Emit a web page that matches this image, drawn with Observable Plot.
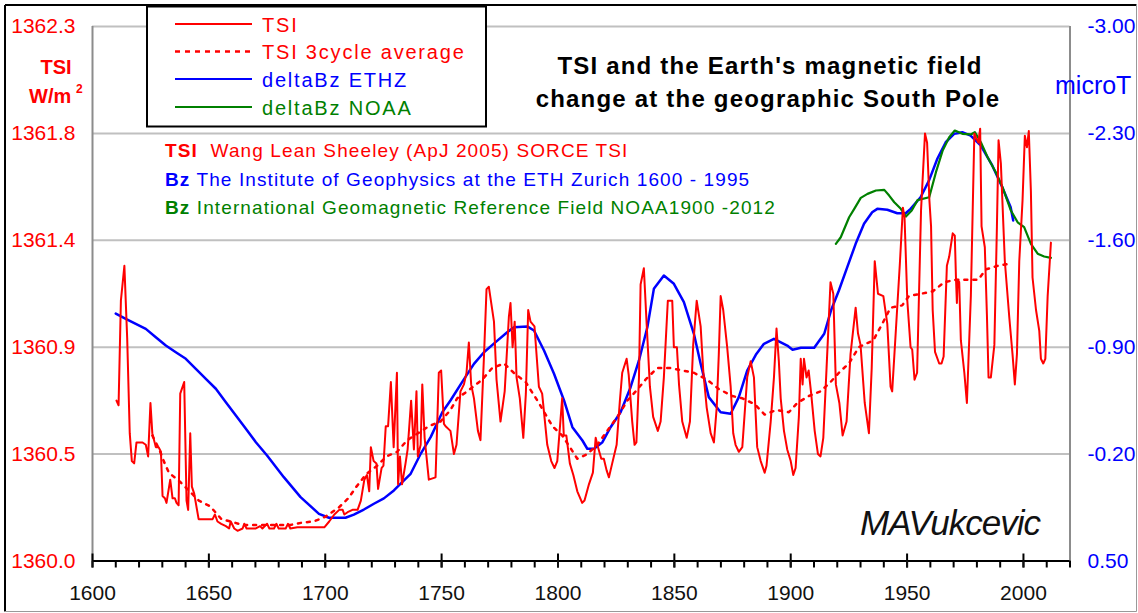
<!DOCTYPE html>
<html><head><meta charset="utf-8">
<script src="https://cdn.jsdelivr.net/npm/d3@7"></script>
<script src="https://cdn.jsdelivr.net/npm/@observablehq/plot@0.6"></script>
<style>
html,body{margin:0;padding:0;background:#fff;}
#wrap{position:relative;width:1138px;height:613px;overflow:hidden;font-family:"Liberation Sans",Arial,sans-serif;background:#fff;}
#chart{position:absolute;left:0;top:0;}
#overlay{position:absolute;left:0;top:0;}
</style></head><body>
<div id="wrap"><div id="chart"></div><svg id="overlay" width="1138" height="613"></svg></div>
<script>
// ---------- data ----------
const tsiYears = [1610.3,1611.2,1612.2,1613.7,1614.9,1616.0,1616.9,1617.9,1618.9,1621.5,1622.9,1623.9,1624.9,1625.7,1627.2,1628.4,1629.4,1630.1,1631.1,1631.8,1633.4,1634.4,1635.4,1636.1,1637.0,1637.7,1639.4,1640.4,1641.1,1642.0,1642.7,1643.7,1645.6,1651.6,1652.6,1653.7,1655.3,1657.3,1658.7,1659.4,1660.9,1662.3,1664.5,1665.2,1666.2,1670.2,1672,1673,1675,1676,1678,1679,1680,1683,1684,1685,1688,1699.6,1701.7,1703.9,1706.0,1707.5,1708.2,1709.6,1711.7,1713.9,1715.3,1716.8,1717.9,1718.9,1719.6,1720.8,1722.0,1722.7,1724.2,1725.0,1726.0,1727.0,1728.2,1729.4,1730.8,1731.3,1732.1,1733.0,1734.5,1735.4,1736.9,1738.1,1739.2,1739.8,1741.0,1741.7,1742.7,1744.5,1747.4,1748.8,1749.8,1751.0,1751.7,1753.8,1755.3,1756.4,1758.1,1759.6,1760.7,1761.7,1762.7,1763.9,1765.6,1766.7,1768.2,1769.3,1770.3,1772.5,1773.6,1775.3,1777.1,1778.9,1779.6,1780.5,1781.4,1782.2,1783.6,1785.1,1786.2,1787.2,1788.2,1789.9,1791.8,1793.2,1795.4,1797.1,1798.5,1799.7,1801.8,1802.5,1803.6,1805.1,1806.6,1808.3,1810.4,1811.4,1813.3,1815.0,1816.2,1816.9,1818.6,1819.7,1820.9,1821.9,1823.3,1825.2,1826.6,1827.6,1829.5,1830.4,1831.9,1832.9,1833.7,1834.8,1835.5,1836.9,1838.1,1839.5,1840.9,1842.9,1844.1,1845.5,1847.2,1849.1,1849.8,1851.1,1852.0,1853.4,1855.3,1856.7,1858.1,1859.6,1861.3,1862.4,1863.9,1865.6,1867.0,1868.2,1869.1,1869.9,1871.0,1872.7,1874.2,1875.3,1876.3,1877.7,1879.2,1881.3,1882.8,1884.2,1885.6,1887.1,1888.8,1889.6,1891.4,1892.8,1893.9,1894.9,1895.7,1897.1,1898.5,1900.0,1901.1,1902.1,1903.5,1904.3,1905.1,1905.7,1906.8,1907.7,1908.8,1910.3,1911.7,1912.8,1914.0,1915.4,1917.1,1918.3,1919.4,1920.9,1922.3,1924.0,1925.7,1927.9,1928.9,1930.0,1931.8,1933.6,1934.8,1936.1,1937.5,1939.8,1941.5,1942.9,1943.6,1945.1,1946.9,1948.2,1948.9,1950.1,1951.5,1952.2,1953.2,1954.3,1956.0,1957.7,1958.6,1959.6,1960.3,1961.0,1962.0,1963.8,1964.8,1965.7,1967.1,1968.1,1969.6,1970.5,1971.0,1971.4,1971.7,1972.4,1973.1,1974.6,1975.7,1977.4,1978.9,1979.7,1980.6,1981.4,1982.0,1983.4,1984.3,1985.0,1986.0,1987.5,1988.6,1989.3,1990.3,1992.0,1993.9,1995.3,1996.3,1997.2,1998.2,1999.6,2000.6,2001.5,2002.3,2003.2,2003.9,2005.4,2006.8,2007.5,2008.5,2009.4,2010.4,2011.8];
const tsiValues = [1360.69,1360.67,1361.12,1361.27,1360.96,1360.55,1360.43,1360.42,1360.51,1360.51,1360.50,1360.45,1360.68,1360.55,1360.49,1360.49,1360.47,1360.28,1360.27,1360.25,1360.35,1360.27,1360.27,1360.25,1360.24,1360.72,1360.77,1360.26,1360.22,1360.55,1360.32,1360.29,1360.18,1360.18,1360.20,1360.17,1360.16,1360.15,1360.14,1360.17,1360.14,1360.13,1360.14,1360.16,1360.14,1360.14,1360.15,1360.14,1360.16,1360.14,1360.14,1360.16,1360.14,1360.14,1360.16,1360.14,1360.145,1360.145,1360.17,1360.20,1360.22,1360.22,1360.20,1360.21,1360.22,1360.22,1360.26,1360.35,1360.37,1360.30,1360.49,1360.43,1360.42,1360.31,1360.40,1360.41,1360.58,1360.58,1360.77,1360.49,1360.81,1360.33,1360.45,1360.33,1360.42,1360.48,1360.69,1360.48,1360.73,1360.45,1360.50,1360.76,1360.53,1360.35,1360.36,1360.81,1360.82,1360.59,1360.58,1360.56,1360.46,1360.50,1360.73,1360.76,1360.81,1360.94,1360.76,1360.70,1360.56,1360.52,1360.88,1361.17,1361.18,1361.03,1360.78,1360.60,1360.73,1361.05,1361.11,1360.92,1361.03,1360.79,1360.70,1360.53,1360.72,1361.08,1361.03,1361.01,1360.75,1360.72,1360.50,1360.43,1360.40,1360.43,1360.70,1360.54,1360.54,1360.42,1360.37,1360.30,1360.25,1360.26,1360.33,1360.38,1360.53,1360.50,1360.44,1360.44,1360.39,1360.36,1360.42,1360.50,1360.69,1360.81,1360.87,1360.80,1360.60,1360.50,1360.51,1360.79,1361.19,1361.26,1361.02,1360.75,1360.62,1360.56,1360.60,1360.79,1361.12,1361.12,1360.92,1360.92,1360.76,1360.60,1360.53,1360.60,1360.93,1361.12,1361.01,1360.82,1360.66,1360.55,1360.51,1360.66,1360.89,1361.14,1361.08,1360.92,1360.75,1360.55,1360.50,1360.47,1360.49,1360.79,1360.86,1360.79,1360.49,1360.43,1360.38,1360.41,1360.60,1360.79,1361.00,1360.86,1360.70,1360.56,1360.48,1360.43,1360.37,1360.40,1360.62,1360.87,1360.76,1360.87,1360.79,1360.82,1360.72,1360.56,1360.46,1360.45,1360.53,1360.83,1361.20,1361.15,1360.76,1360.68,1360.54,1360.60,1360.89,1361.09,1360.98,1360.93,1360.68,1360.55,1360.83,1361.29,1361.15,1361.14,1361.02,1360.75,1360.73,1360.98,1361.28,1361.52,1361.48,1361.12,1360.92,1360.91,1360.78,1360.81,1361.51,1361.84,1361.80,1361.55,1361.44,1361.08,1360.90,1360.85,1360.85,1360.88,1361.27,1361.31,1361.41,1361.40,1361.22,1361.11,1361.21,1361.20,1360.95,1360.81,1360.68,1361.14,1361.84,1361.82,1361.80,1361.86,1361.44,1361.35,1361.06,1360.79,1360.79,1360.93,1361.44,1361.81,1361.71,1361.29,1361.05,1360.89,1360.76,1360.89,1361.29,1361.55,1361.83,1361.78,1361.85,1361.59,1361.22,1361.08,1360.99,1360.87,1360.85,1360.87,1361.14,1361.37];

const avgYears = [1625.7,1628.7,1630.6,1632.8,1637.7,1645.7,1650.6,1655.4,1659.4,1664.4,1670,1680,1685,1690,1695,1700,1705.8,1709.9,1713.4,1717.7,1722.3,1726.3,1730.9,1735.2,1744.5,1749.5,1753.8,1756.7,1761,1767.4,1771.7,1776.8,1781,1786.1,1791.8,1794.7,1797.6,1801.8,1805.1,1808.3,1812.6,1816.9,1822.6,1826.2,1829.8,1833.4,1837.6,1842.6,1848.4,1853.4,1858.4,1864.1,1869.1,1874.9,1879.2,1884.5,1888.8,1893.9,1899.2,1902.8,1907.8,1912.8,1917.1,1920.7,1925,1929.3,1935.5,1939.3,1942.9,1947.9,1950.8,1956,1961,1966,1971,1976,1980.5,1983.9,1988.9,1994.4];
const avgValues = [1360.54,1360.48,1360.43,1360.38,1360.34,1360.26,1360.235,1360.18,1360.17,1360.155,1360.155,1360.155,1360.155,1360.165,1360.17,1360.19,1360.23,1360.27,1360.32,1360.375,1360.41,1360.45,1360.47,1360.52,1360.58,1360.60,1360.65,1360.70,1360.73,1360.78,1360.83,1360.85,1360.81,1360.77,1360.68,1360.63,1360.58,1360.54,1360.49,1360.44,1360.46,1360.50,1360.58,1360.63,1360.69,1360.73,1360.78,1360.83,1360.83,1360.82,1360.81,1360.78,1360.74,1360.71,1360.70,1360.675,1360.63,1360.65,1360.64,1360.68,1360.71,1360.73,1360.77,1360.81,1360.85,1360.92,1360.95,1361.02,1361.09,1361.10,1361.14,1361.15,1361.16,1361.20,1361.21,1361.21,1361.21,1361.255,1361.27,1361.28];

const ethzYears = [1610,1614.3,1618.6,1622.9,1627.2,1631.5,1635.8,1640.1,1644.4,1648.7,1653,1657.3,1661.6,1665.9,1670.2,1675,1682.2,1689.4,1697.3,1701.6,1708.7,1712.3,1716.6,1720.9,1725.2,1729.5,1732.4,1736.7,1741,1745.3,1750.3,1753.8,1758.8,1763.9,1768.2,1773.2,1778.2,1781.1,1786.8,1789.7,1794,1798.3,1802.6,1806.2,1810.5,1812.6,1815.5,1819.1,1822.6,1826.9,1831.2,1834.8,1838.4,1841.2,1845.5,1849.8,1854.1,1858.4,1861.3,1864.8,1869.9,1874.2,1877.7,1881.3,1885,1888.5,1892.8,1898.5,1900.8,1904.4,1910.1,1914.4,1917.3,1920.7,1924.3,1927.9,1931.5,1935,1937.2,1941.5,1945.8,1949.4,1951.5,1955.8,1959.4,1963,1966.6,1970.2,1973.7,1977.3,1981.6,1986.6,1990.9,1994.5,1995.6];
const ethzValues = [-1.12,-1.086,-1.053,-1.02,-0.965,-0.911,-0.867,-0.824,-0.758,-0.693,-0.628,-0.54,-0.453,-0.366,-0.278,-0.191,-0.049,0.082,0.191,0.217,0.217,0.196,0.163,0.125,0.09,0.038,-0.006,-0.071,-0.202,-0.311,-0.474,-0.551,-0.671,-0.791,-0.867,-0.933,-0.998,-1.031,-1.036,-1.009,-0.878,-0.726,-0.551,-0.376,-0.289,-0.235,-0.235,-0.278,-0.376,-0.474,-0.638,-0.813,-1.031,-1.282,-1.369,-1.315,-1.195,-0.988,-0.791,-0.573,-0.474,-0.464,-0.573,-0.747,-0.85,-0.922,-0.955,-0.911,-0.883,-0.896,-0.896,-0.988,-1.14,-1.271,-1.424,-1.577,-1.708,-1.784,-1.806,-1.8,-1.777,-1.777,-1.806,-1.882,-1.991,-2.134,-2.242,-2.297,-2.308,-2.286,-2.221,-2.09,-1.948,-1.817,-1.73];

const noaaYears = [1919.4,1921.5,1925.1,1927.3,1930.1,1933,1936.6,1940.2,1942.3,1944.5,1947.3,1949.5,1952,1954.5,1959.5,1962.4,1965.3,1968.1,1970.5,1973.8,1977.4,1979.1,1981.7,1984.6,1988.1,1991,1994.6,1997.5,2000.3,2003.2,2006.1,2008.9,2011.8];
const noaaValues = [-1.577,-1.62,-1.751,-1.806,-1.878,-1.904,-1.926,-1.93,-1.893,-1.849,-1.806,-1.756,-1.795,-1.863,-1.882,-2.046,-2.188,-2.275,-2.319,-2.297,-2.293,-2.308,-2.242,-2.144,-2.046,-1.948,-1.795,-1.718,-1.686,-1.577,-1.512,-1.494,-1.485];

const leftTicks = [1360.0,1360.46,1360.92,1361.38,1361.84,1362.3];
const rightTicks = [0.5,-0.2,-0.9,-1.6,-2.3,-3.0];
const majorYears = [1600,1650,1700,1750,1800,1850,1900,1950,2000];
const minorYears = d3.range(1600,2021,10);
const legendLabels = ["TSI","TSI 3cycle average","deltaBz ETHZ","deltaBz NOAA"];
const notes = [
  ["TSI","  Wang Lean Sheeley (ApJ 2005) SORCE TSI","#ff0000"],
  ["Bz"," The Institute of Geophysics at the ETH Zurich 1600 - 1995","#0000ff"],
  ["Bz"," International Geomagnetic Reference Field NOAA1900 -2012","#008000"]
];

// right axis (microT, reversed) mapped onto left TSI scale
const L0 = 1360, L1 = 1362.3, R0 = 0.5, R1 = -3.0;
const bzToTsi = b => L0 + (b - R0) / (R1 - R0) * (L1 - L0);
const tsiToBz = t => R0 + (t - L0) / (L1 - L0) * (R1 - R0);

const tsi = tsiYears.map((y,i)=>({year:y, v:tsiValues[i]}));
const avg = avgYears.map((y,i)=>({year:y, v:avgValues[i]}));
const ethz = ethzYears.map((y,i)=>({year:y, v:bzToTsi(ethzValues[i])}));
const noaa = noaaYears.map((y,i)=>({year:y, v:bzToTsi(noaaValues[i])}));

const RED="#ff0000", BLUE="#0000ff", GREEN="#008000";
const W=1138, H=613;
const FONT = "Liberation Sans, Arial, sans-serif";

const chart = Plot.plot({
  width: W, height: H,
  marginLeft: 92, marginRight: W-1069.5, marginTop: 26, marginBottom: H-560.5,
  style: {fontFamily: FONT, background: "transparent", overflow: "visible"},
  x: {domain: [1600, 2020], axis: null},
  y: {domain: [L0, L1], axis: null},
  marks: [
    Plot.gridY(leftTicks.slice(1), {stroke: "#c0c0c0", strokeOpacity: 1, strokeWidth: 2}),
    Plot.ruleX([1600, 2020], {stroke: "#8c8c8c", strokeWidth: 2}),
    Plot.line(ethz, {x: "year", y: "v", stroke: BLUE, strokeWidth: 2.5}),
    Plot.line(noaa, {x: "year", y: "v", stroke: GREEN, strokeWidth: 2.2}),
    Plot.line(tsi, {x: "year", y: "v", stroke: RED, strokeWidth: 2}),
    Plot.line(avg, {x: "year", y: "v", stroke: RED, strokeWidth: 2.5, strokeDasharray: "3,6"}),
    Plot.ruleY([L0], {stroke: "#000", strokeWidth: 2}),
    Plot.ruleX(majorYears, {stroke: "#000", strokeWidth: 2, insetTop: 534.5-7}),
    Plot.axisX(minorYears, {tickSize: 7, strokeWidth: 2, tickFormat: () => "", label: null, color: "#000"}),
    Plot.axisX(majorYears, {tickSize: 7, tickPadding: 17, strokeWidth: 2, tickFormat: d => String(d), fontSize: 21, label: null, color: "#111"}),
    Plot.axisY(leftTicks, {anchor: "left", tickSize: 0, tickPadding: 17, tickFormat: d => d.toFixed(1), fontSize: 21, label: null, color: RED}),
    Plot.axisY(rightTicks.map(bzToTsi), {anchor: "right", tickSize: 0, tickPadding: 17.5, tickFormat: v => tsiToBz(v).toFixed(2), fontSize: 21, label: null, color: BLUE})
  ]
});
document.getElementById("chart").appendChild(chart);

// ---------- overlay (frame, legend, titles, notes) ----------
const svg = d3.select("#overlay").style("font-family", FONT);
// outer frame
svg.append("line").attr("x1",5).attr("y1",5).attr("x2",1136.5).attr("y2",5).attr("stroke","#000").attr("stroke-width",2);
svg.append("line").attr("x1",5).attr("y1",5).attr("x2",5).attr("y2",611.5).attr("stroke","#000").attr("stroke-width",2);
svg.append("line").attr("x1",1136.5).attr("y1",5).attr("x2",1136.5).attr("y2",611.5).attr("stroke","#999").attr("stroke-width",1);
svg.append("line").attr("x1",5).attr("y1",611.5).attr("x2",1136.5).attr("y2",611.5).attr("stroke","#999").attr("stroke-width",1);

// legend
svg.append("rect").attr("x",147).attr("y",6.5).attr("width",339).attr("height",120).attr("fill","#fff").attr("stroke","#000").attr("stroke-width",2);
const legColors = [RED, RED, BLUE, GREEN];
const legDash = [null, "5,5", null, null];
const legY = [24, 51.5, 79, 107];
legendLabels.forEach((lab,i)=>{
  svg.append("line").attr("x1",175).attr("x2",252).attr("y1",legY[i]).attr("y2",legY[i])
    .attr("stroke",legColors[i]).attr("stroke-width", i===1?2.5:2).attr("stroke-dasharray",legDash[i]);
  svg.append("text").attr("x",262).attr("y",legY[i]+7.5).attr("fill",legColors[i])
    .attr("font-size",20).attr("letter-spacing","1.8px").text(lab);
});

// left unit label
svg.append("text").attr("x",56).attr("y",74).attr("text-anchor","middle").attr("font-weight","bold")
  .attr("font-size",20).attr("fill",RED).text("TSI");
svg.append("text").attr("x",29).attr("y",103).attr("font-weight","bold").attr("font-size",20).attr("fill",RED).text("W/m");
svg.append("text").attr("x",76).attr("y",93).attr("font-weight","bold").attr("font-size",12).attr("fill",RED).text("2");
// right unit label
svg.append("text").attr("x",1055).attr("y",94).attr("font-size",25).attr("fill",BLUE).text("microT");

// title
svg.append("text").attr("x",770).attr("y",74).attr("text-anchor","middle").attr("font-weight","bold")
  .attr("font-size",24).attr("letter-spacing","1.2px").attr("fill","#000").text("TSI and the Earth's magnetic field");
svg.append("text").attr("x",768).attr("y",107.3).attr("text-anchor","middle").attr("font-weight","bold")
  .attr("font-size",24).attr("letter-spacing","1.2px").attr("fill","#000").text("change at the geographic South Pole");

// notes
const noteY = [157.3, 185.5, 213.8];
notes.forEach((n,i)=>{
  const t = svg.append("text").attr("x",165).attr("y",noteY[i]).attr("font-size",19)
    .attr("letter-spacing","1.1px").attr("fill",n[2]).style("white-space","pre");
  t.append("tspan").attr("font-weight","bold").text(n[0]);
  t.append("tspan").text(n[1]);
});

// signature
svg.append("text").attr("x",860).attr("y",535).attr("font-size",35).attr("font-style","italic")
  .attr("letter-spacing","-1px").attr("fill","#111").text("MAVukcevic");
</script></body></html>
